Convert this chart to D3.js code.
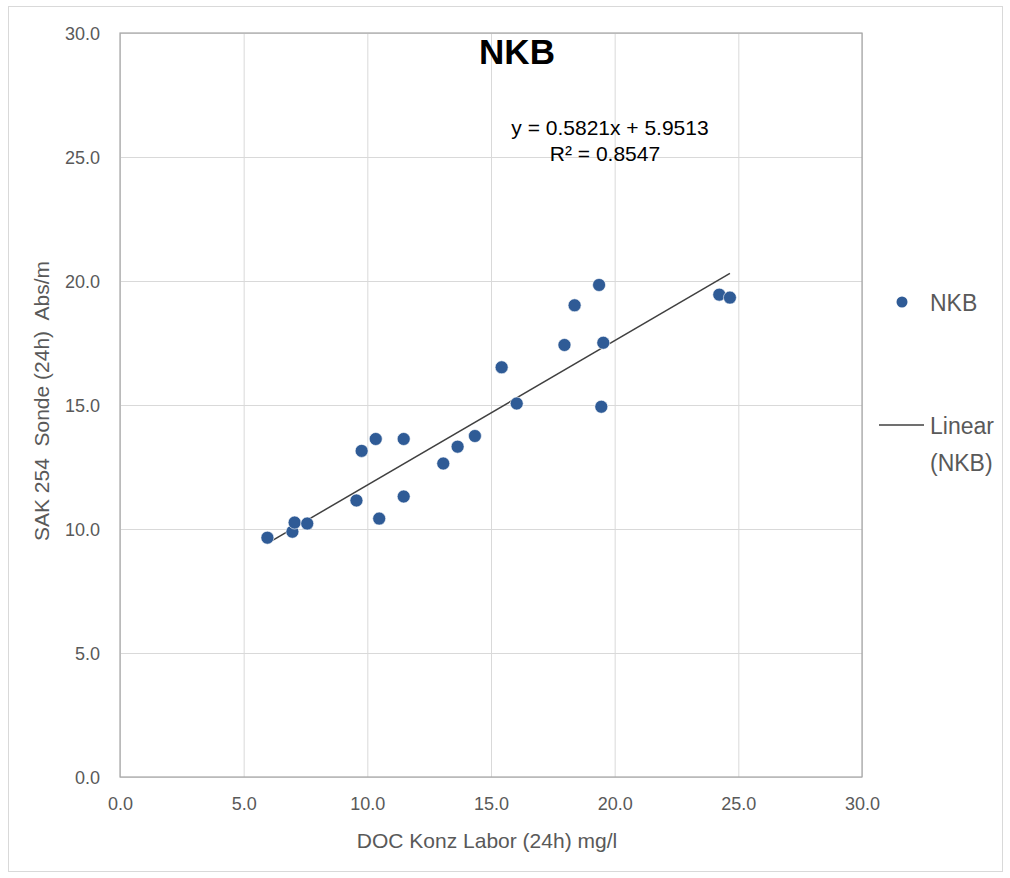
<!DOCTYPE html>
<html><head><meta charset="utf-8">
<script src="https://cdn.jsdelivr.net/npm/d3@7"></script>
<style>body{margin:0;background:#fff}svg{display:block}</style>
</head><body>
<script>
const docLabor = [5.96,6.97,7.06,7.57,9.56,9.77,10.34,10.48,11.47,11.47,13.07,13.65,14.35,15.43,16.04,17.97,18.38,19.37,19.54,19.46,24.23,24.66];
const sakSonde = [9.65,9.89,10.26,10.22,11.15,13.15,13.63,10.42,13.63,11.31,12.64,13.32,13.75,16.52,15.06,17.42,19.02,19.84,17.51,14.93,19.45,19.33];
const trendSlope = 0.5821, trendIntercept = 5.9513, rSquared = 0.8547;
const xTicks = [0,5,10,15,20,25,30];
const yTicks = [0,5,10,15,20,25,30];
const seriesName = "NKB";

const W = 1010, H = 878;
const m = {l:120, t:33, r:862, b:777};
const svg = d3.select("body").append("svg").attr("width",W).attr("height",H);
const font = "'Liberation Sans', Arial, sans-serif";

svg.append("rect").attr("x",8.5).attr("y",6.5).attr("width",994).attr("height",865)
  .attr("fill","#fff").attr("stroke","#d9d9d9");

const x = d3.scaleLinear().domain([0,30]).range([m.l,m.r]);
const y = d3.scaleLinear().domain([0,30]).range([m.b,m.t]);

// gridlines + tick labels
const gx = svg.append("g").attr("transform",`translate(0,${m.b})`)
  .call(d3.axisBottom(x).tickValues(xTicks).tickSize(-(m.b-m.t)).tickFormat(d=>d.toFixed(1)).tickPadding(20));
const gy = svg.append("g").attr("transform",`translate(${m.l},0)`)
  .call(d3.axisLeft(y).tickValues(yTicks).tickSize(-(m.r-m.l)).tickFormat(d=>d.toFixed(1)).tickPadding(20));
[gx,gy].forEach(g=>{
  g.select(".domain").remove();
  g.selectAll(".tick line").attr("stroke","#d9d9d9").attr("stroke-width",1);
  g.selectAll(".tick text").attr("fill","#595959").style("font-family",font).style("font-size","18px");
});
gy.selectAll(".tick text").attr("dy","0.35em");
gx.selectAll(".tick text").attr("dy","0.71em");

// plot border
svg.append("rect").attr("x",m.l).attr("y",m.t).attr("width",m.r-m.l).attr("height",m.b-m.t)
  .attr("fill","none").attr("stroke","#a6a6a6").attr("stroke-width",1.2);

// trendline
const xMin = d3.min(docLabor), xMax = d3.max(docLabor);
svg.append("line")
  .attr("x1",x(xMin)).attr("y1",y(trendSlope*xMin+trendIntercept))
  .attr("x2",x(xMax)).attr("y2",y(trendSlope*xMax+trendIntercept))
  .attr("stroke","#404040").attr("stroke-width",1.5);

// points
svg.append("g").selectAll("circle").data(docLabor).join("circle")
  .attr("cx",d=>x(d)).attr("cy",(d,i)=>y(sakSonde[i])).attr("r",6.5)
  .attr("fill","#2f5b96").attr("stroke","#fff").attr("stroke-width",0.6);

// title
svg.append("text").attr("x",517).attr("y",64).attr("text-anchor","middle")
  .style("font-family",font).style("font-weight","bold").style("font-size","35px").attr("fill","#000").text(seriesName);

// equation
svg.append("text").attr("x",610).attr("y",135).attr("text-anchor","middle")
  .style("font-family",font).style("font-size","21px").attr("fill","#000")
  .text(`y = ${trendSlope}x + ${trendIntercept}`);
svg.append("text").attr("x",605).attr("y",161).attr("text-anchor","middle")
  .style("font-family",font).style("font-size","21px").attr("fill","#000")
  .text(`R² = ${rSquared}`);

// axis titles
svg.append("text").attr("x",487).attr("y",848).attr("text-anchor","middle")
  .style("font-family",font).style("font-size","21px").attr("fill","#595959")
  .text("DOC Konz Labor (24h) mg/l");
svg.append("text").attr("transform","translate(49,401) rotate(-90)").attr("text-anchor","middle")
  .style("font-family",font).style("font-size","21px").attr("fill","#595959")
  .style("white-space","pre")
  .text("SAK 254  Sonde (24h)  Abs/m");

// legend
svg.append("circle").attr("cx",902).attr("cy",302).attr("r",5.5).attr("fill","#2f5b96");
svg.append("text").attr("x",930).attr("y",311).style("font-family",font).style("font-size","23px").attr("fill","#595959").text(seriesName);
svg.append("line").attr("x1",879).attr("x2",924).attr("y1",425).attr("y2",425).attr("stroke","#404040").attr("stroke-width",1.5);
svg.append("text").attr("x",930).attr("y",434).style("font-family",font).style("font-size","23px").attr("fill","#595959").text("Linear");
svg.append("text").attr("x",930).attr("y",471).style("font-family",font).style("font-size","23px").attr("fill","#595959").text(`(${seriesName})`);
</script>
</body></html>
